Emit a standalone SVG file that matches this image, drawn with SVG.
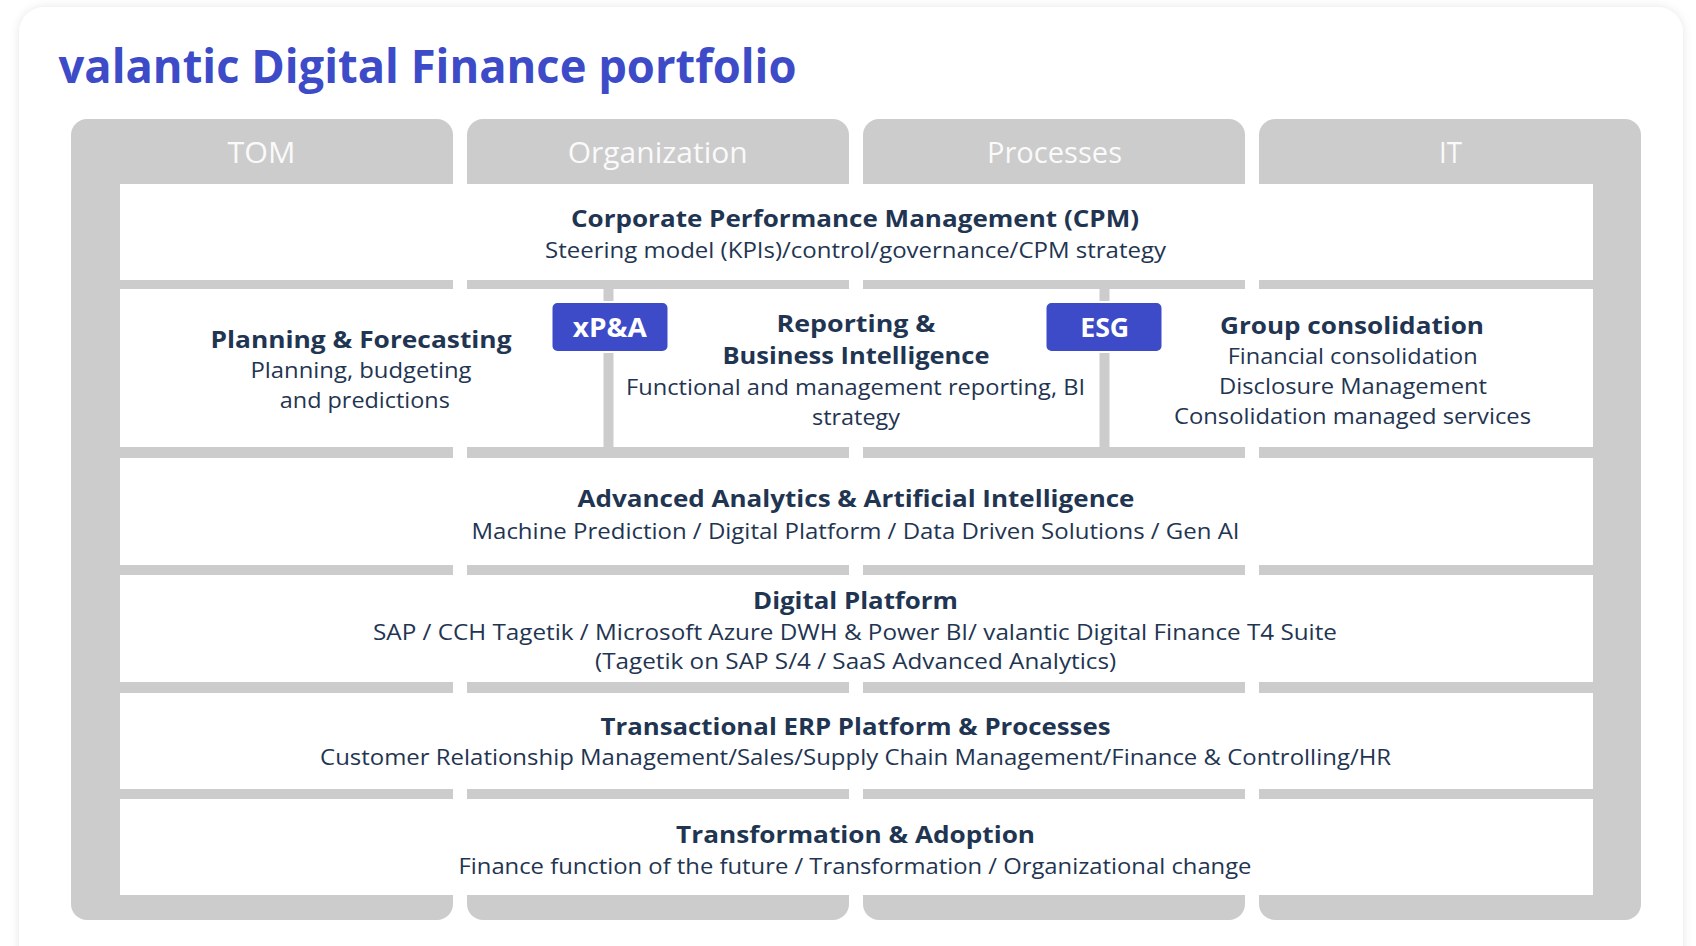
<svg xmlns="http://www.w3.org/2000/svg" width="1696" height="946" viewBox="0 0 1696 946">
<defs>
<filter id="sh" x="-5%" y="-5%" width="110%" height="110%">
<feDropShadow dx="0" dy="0" stdDeviation="5" flood-color="#000" flood-opacity="0.10"/>
</filter>
<style>
.col{fill:#cccccc}
.row{fill:#ffffff}
.hd{font-family:"Open Sans","Liberation Sans",sans-serif;font-size:29px;fill:#fafafa;text-anchor:middle}
.b{font-family:"Open Sans","Liberation Sans",sans-serif;font-size:23px;font-weight:700;fill:#1f3552;text-anchor:middle}
.t{font-family:"Open Sans","Liberation Sans",sans-serif;font-size:22px;fill:#1f3552;text-anchor:middle}
.badge{fill:#3d4bc8;stroke:#ffffff;stroke-width:2}
.bt{font-family:"Open Sans","Liberation Sans",sans-serif;font-size:27px;font-weight:700;fill:#ffffff;text-anchor:middle}
.title{font-family:"Open Sans","Liberation Sans",sans-serif;font-size:46px;font-weight:700;fill:#3d4bc8}
</style>
</defs>
<rect x="0" y="0" width="1696" height="946" fill="#ffffff"/>
<rect x="19" y="7" width="1664" height="980" rx="26" fill="#ffffff" filter="url(#sh)"/>
<text class="title" x="58.5" y="83" textLength="738" lengthAdjust="spacingAndGlyphs">valantic Digital Finance portfolio</text>

<g id="columns">
<g id="col-tom"><rect class="col" x="71" y="119" width="382" height="801" rx="16"/><text class="hd" x="261.5" y="163" textLength="68" lengthAdjust="spacingAndGlyphs">TOM</text></g>
<g id="col-org"><rect class="col" x="467" y="119" width="382" height="801" rx="16"/><text class="hd" x="657.7" y="163" textLength="180" lengthAdjust="spacingAndGlyphs">Organization</text></g>
<g id="col-proc"><rect class="col" x="863" y="119" width="382" height="801" rx="16"/><text class="hd" x="1054.5" y="163" textLength="135" lengthAdjust="spacingAndGlyphs">Processes</text></g>
<g id="col-it"><rect class="col" x="1259" y="119" width="382" height="801" rx="16"/><text class="hd" x="1450.5" y="163" textLength="23" lengthAdjust="spacingAndGlyphs">IT</text></g>
</g>

<g id="row-cpm">
<rect class="row" x="120" y="184" width="1473" height="96"/>
<text class="b" x="855" y="227" textLength="568" lengthAdjust="spacingAndGlyphs">Corporate Performance Management (CPM)</text>
<text class="t" x="855.5" y="258" textLength="621" lengthAdjust="spacingAndGlyphs">Steering model (KPIs)/control/governance/CPM strategy</text>
</g>

<g id="row-2">
<rect class="row" x="120" y="289" width="1473" height="158"/>
<rect class="col" x="603.5" y="289" width="10" height="158"/>
<rect class="col" x="1099.5" y="289" width="10" height="158"/>
</g>

<g id="node-planning">
<text class="b" x="361" y="348" textLength="301" lengthAdjust="spacingAndGlyphs">Planning &amp; Forecasting</text>
<text class="t" x="361" y="378" textLength="221" lengthAdjust="spacingAndGlyphs">Planning, budgeting</text>
<text class="t" x="364.8" y="408" textLength="170" lengthAdjust="spacingAndGlyphs">and predictions</text>
</g>

<g id="node-reporting">
<text class="b" x="856" y="332" textLength="159" lengthAdjust="spacingAndGlyphs">Reporting &amp;</text>
<text class="b" x="856" y="363.5" textLength="267" lengthAdjust="spacingAndGlyphs">Business Intelligence</text>
<text class="t" x="855.5" y="395" textLength="459" lengthAdjust="spacingAndGlyphs">Functional and management reporting, BI</text>
<text class="t" x="856" y="425" textLength="88" lengthAdjust="spacingAndGlyphs">strategy</text>
</g>

<g id="node-group">
<text class="b" x="1352" y="333.5" textLength="264" lengthAdjust="spacingAndGlyphs">Group consolidation</text>
<text class="t" x="1352.7" y="363.5" textLength="250" lengthAdjust="spacingAndGlyphs">Financial consolidation</text>
<text class="t" x="1353" y="393.5" textLength="268" lengthAdjust="spacingAndGlyphs">Disclosure Management</text>
<text class="t" x="1352.5" y="423.5" textLength="357" lengthAdjust="spacingAndGlyphs">Consolidation managed services</text>
</g>

<g id="badge-xpa">
<rect class="badge" x="551.5" y="302" width="117" height="50" rx="6"/>
<text class="bt" x="609.8" y="336.7" textLength="74" lengthAdjust="spacingAndGlyphs">xP&amp;A</text>
</g>
<g id="badge-esg">
<rect class="badge" x="1045.5" y="302" width="117" height="50" rx="6"/>
<text class="bt" x="1104.7" y="336.7" textLength="49" lengthAdjust="spacingAndGlyphs">ESG</text>
</g>

<g id="row-analytics">
<rect class="row" x="120" y="458" width="1473" height="107"/>
<text class="b" x="856" y="507" textLength="557" lengthAdjust="spacingAndGlyphs">Advanced Analytics &amp; Artificial Intelligence</text>
<text class="t" x="855.5" y="538.5" textLength="768" lengthAdjust="spacingAndGlyphs">Machine Prediction / Digital Platform / Data Driven Solutions / Gen AI</text>
</g>

<g id="row-platform">
<rect class="row" x="120" y="575" width="1473" height="107"/>
<text class="b" x="855.5" y="608.5" textLength="205" lengthAdjust="spacingAndGlyphs">Digital Platform</text>
<text class="t" x="855" y="640" textLength="964" lengthAdjust="spacingAndGlyphs">SAP / CCH Tagetik / Microsoft Azure DWH &amp; Power BI/ valantic Digital Finance T4 Suite</text>
<text class="t" x="855.6" y="668.5" textLength="521" lengthAdjust="spacingAndGlyphs">(Tagetik on SAP S/4 / SaaS Advanced Analytics)</text>
</g>

<g id="row-erp">
<rect class="row" x="120" y="693" width="1473" height="96"/>
<text class="b" x="855.5" y="735" textLength="510" lengthAdjust="spacingAndGlyphs">Transactional ERP Platform &amp; Processes</text>
<text class="t" x="855.6" y="765" textLength="1071" lengthAdjust="spacingAndGlyphs">Customer Relationship Management/Sales/Supply Chain Management/Finance &amp; Controlling/HR</text>
</g>

<g id="row-transformation">
<rect class="row" x="120" y="799" width="1473" height="96"/>
<text class="b" x="855.6" y="843" textLength="359" lengthAdjust="spacingAndGlyphs">Transformation &amp; Adoption</text>
<text class="t" x="855" y="873.5" textLength="793" lengthAdjust="spacingAndGlyphs">Finance function of the future / Transformation / Organizational change</text>
</g>

<g id="connectors"></g>
</svg>
